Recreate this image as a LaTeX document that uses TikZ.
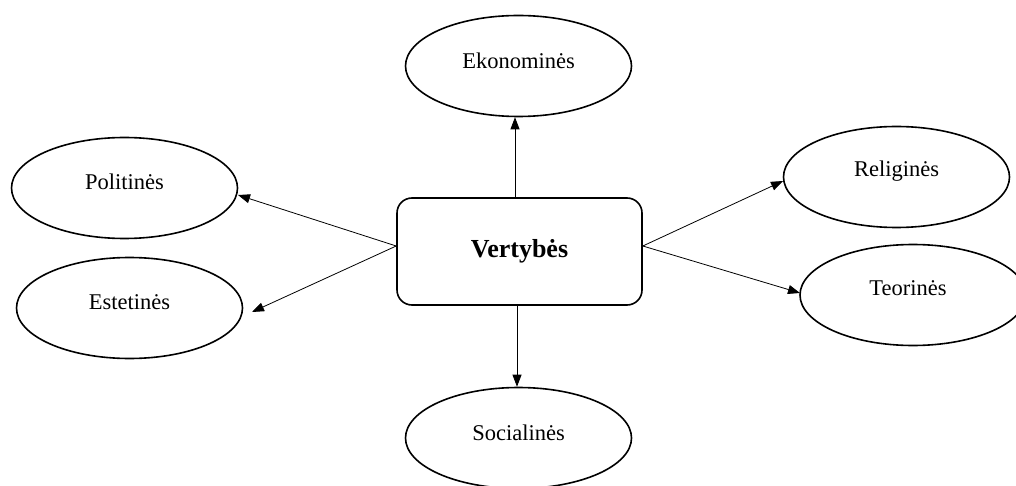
\documentclass[tikz,border=0pt]{standalone}
\usepackage{fontspec}
\setmainfont{Liberation Serif}
\usetikzlibrary{shapes.geometric,arrows.meta}
\begin{document}
\begin{tikzpicture}[x=1pt,y=-1pt,
  oval/.style={ellipse,draw,line width=1.6pt,minimum width=226pt,minimum height=101pt,inner sep=0pt},
  lbl/.style={font=\fontsize{22.5}{25}\selectfont},
  centre/.style={rectangle,rounded corners=15pt,draw,line width=1.6pt,minimum width=245pt,minimum height=107pt,font=\bfseries\fontsize{26}{29}\selectfont},
  conn/.style={line width=0.8pt,-{Triangle[length=12pt,width=9pt]}}]
\useasboundingbox (0,0) rectangle (1016,486);
\node[centre] (v) at (519.5,251.5) {Vertybės};
\node[oval] (eko) at (518.5,66) {};
\node[lbl] at (518.5,61) {Ekonominės};
\node[oval] (pol) at (124.5,188) {};
\node[lbl] at (124.5,182) {Politinės};
\node[oval] (est) at (129.5,308) {};
\node[lbl] at (129.5,302) {Estetinės};
\node[oval] (rel) at (896.5,177) {};
\node[lbl] at (896.5,171) {Religinės};
\node[oval] (teo) at (913,295) {};
\node[lbl] at (908,288) {Teorinės};
\node[oval] (soc) at (518.5,438) {};
\node[lbl] at (518.5,433) {Socialinės};
\coordinate (vl) at (v.west|-0,246);
\coordinate (vr) at (v.east|-0,246);
\coordinate (polend) at (238,195);
\coordinate (estend) at (252,312);
\coordinate (relend) at (783,181);
\coordinate (teoend) at (800,293);
\draw[conn] (v.north-|515,0) -- (eko.south-|515,0);
\draw[conn] (v.south-|517,0) -- (soc.north-|517,0);
\draw[conn] (vl) -- (polend);
\draw[conn] (vl) -- (estend);
\draw[conn] (vr) -- (relend);
\draw[conn] (vr) -- (teoend);
\end{tikzpicture}
\end{document}
